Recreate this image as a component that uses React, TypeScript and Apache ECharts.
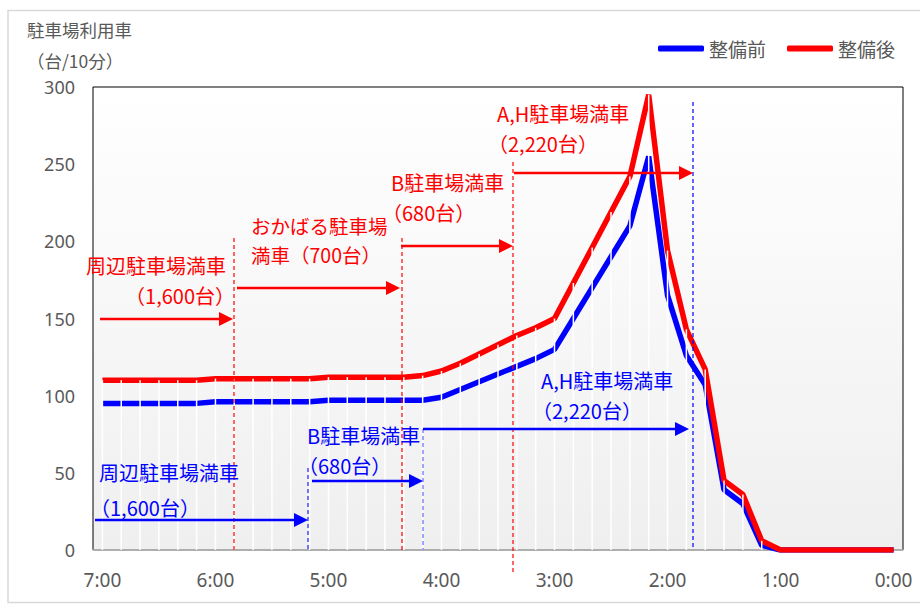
import React, { useEffect, useRef } from 'react';
import * as echarts from 'echarts';

// x categories (10-minute steps, counting down)
const categories = [
  '7:00', '6:50', '6:40', '6:30', '6:20', '6:10',
  '6:00', '5:50', '5:40', '5:30', '5:20', '5:10',
  '5:00', '4:50', '4:40', '4:30', '4:20', '4:10',
  '4:00', '3:50', '3:40', '3:30', '3:20', '3:10',
  '3:00', '2:50', '2:40', '2:30', '2:20', '2:10',
  '2:00', '1:50', '1:40', '1:30', '1:20', '1:10',
  '1:00', '0:50', '0:40', '0:30', '0:20', '0:10',
  '0:00',
];

const seriesNames = ['整備前', '整備後'];

// 整備前 (blue)
const beforeValues = [
  95, 95, 95, 95, 95, 95,
  96, 96, 96, 96, 96, 96,
  97, 97, 97, 97, 97, 97,
  99, 104, 109, 114, 119, 124,
  130, 150, 170, 190, 210, 255,
  165, 126, 107, 39, 30, 3,
  0, 0, 0, 0, 0, 0,
  0,
];

// 整備後 (red)
const afterValues = [
  110, 110, 110, 110, 110, 110,
  111, 111, 111, 111, 111, 111,
  112, 112, 112, 112, 112, 113,
  116, 121, 127, 133, 139, 144,
  150, 173, 196, 219, 242, 295,
  194, 143, 117, 45, 36, 6,
  0, 0, 0, 0, 0, 0,
  0,
];

const yMin = 0;
const yMax = 300;
const yInterval = 50;

// annotation texts
const redTexts = [
  { text: '周辺駐車場満車', x: 86, y: 265, align: 'left', size: 20 },
  { text: '（1,600台）', x: 235, y: 295, align: 'right', size: 20 },
  { text: 'おかばる駐車場', x: 251, y: 225, align: 'left', size: 19.5 },
  { text: '満車（700台）', x: 251, y: 254, align: 'left', size: 19.5 },
  { text: 'B駐車場満車', x: 391, y: 182, align: 'left', size: 20 },
  { text: '（680台）', x: 382, y: 212, align: 'left', size: 20 },
  { text: 'A,H駐車場満車', x: 497, y: 113, align: 'left', size: 20 },
  { text: '（2,220台）', x: 488, y: 143, align: 'left', size: 20 },
];
const blueTexts = [
  { text: '周辺駐車場満車', x: 99, y: 472, align: 'left', size: 20 },
  { text: '（1,600台）', x: 90, y: 507, align: 'left', size: 20 },
  { text: 'B駐車場満車', x: 307, y: 435, align: 'left', size: 20 },
  { text: '（680台）', x: 298, y: 465, align: 'left', size: 20 },
  { text: 'A,H駐車場満車', x: 541, y: 380, align: 'left', size: 20 },
  { text: '（2,220台）', x: 532, y: 410, align: 'left', size: 20 },
];
const redArrows = [
  { x1: 100, x2: 233, y: 319 },
  { x1: 237, x2: 400, y: 288 },
  { x1: 401, x2: 513, y: 246 },
  { x1: 514, x2: 693, y: 173 },
];
const blueArrows = [
  { x1: 95, x2: 308, y: 520 },
  { x1: 312, x2: 423, y: 481 },
  { x1: 423, x2: 689, y: 429 },
];
const redDashes = [
  { x: 234, y1: 238, y2: 550, color: '#ff0000' },
  { x: 402, y1: 238, y2: 550, color: '#ff0000' },
  { x: 513, y1: 162, y2: 572, color: '#ff0000' },
];
const blueDashes = [
  { x: 308, y1: 468, y2: 550, color: '#2020ff' },
  { x: 423, y1: 429, y2: 550, color: '#6a6aff' },
  { x: 693, y1: 102, y2: 550, color: '#0000ff' },
];

const RED = '#ff0000';
const BLUE = '#0000ff';
const GRAY = '#595959';
const CJK = '"Noto Sans CJK JP", "Noto Sans", sans-serif';

export default function App() {
  const ref = useRef<HTMLDivElement>(null);

  useEffect(() => {
    if (!ref.current) return;
    const chart = echarts.init(ref.current, null, { renderer: 'svg' });

    const dropValues = beforeValues.map((v, i) => Math.max(v, afterValues[i]));

    const graphics: any[] = [];
    // outer frame
    graphics.push({
      type: 'rect',
      shape: { x: 8, y: 10.5, width: 1000, height: 592 },
      style: { fill: 'none', stroke: '#d9d9d9', lineWidth: 1.5 },
      z: 0,
      silent: true,
    });
    // titles
    graphics.push({
      type: 'text',
      x: 27,
      y: 29,
      style: { text: '駐車場利用車', fill: GRAY, font: `17.5px ${CJK}`, align: 'left', verticalAlign: 'middle' },
    });
    graphics.push({
      type: 'text',
      x: 27,
      y: 60,
      style: { text: '（台/10分）', fill: GRAY, font: `17.5px ${CJK}`, align: 'left', verticalAlign: 'middle' },
    });

    const addDash = (d: any) => {
      graphics.push({
        type: 'line',
        shape: { x1: d.x, y1: d.y1, x2: d.x, y2: d.y2 },
        style: { stroke: d.color, lineWidth: 1.2, lineDash: [4, 3] },
        z: 4,
        silent: true,
      });
    };
    redDashes.forEach(addDash);
    blueDashes.forEach(addDash);

    const addArrow = (a: any, color: string) => {
      graphics.push({
        type: 'line',
        shape: { x1: a.x1, y1: a.y, x2: a.x2 - 10, y2: a.y },
        style: { stroke: color, lineWidth: 2.5 },
        z: 5,
        silent: true,
      });
      graphics.push({
        type: 'polygon',
        shape: { points: [[a.x2, a.y], [a.x2 - 14, a.y - 7], [a.x2 - 14, a.y + 7]] },
        style: { fill: color },
        z: 5,
        silent: true,
      });
    };
    redArrows.forEach((a) => addArrow(a, RED));
    blueArrows.forEach((a) => addArrow(a, BLUE));

    const addText = (t: any, color: string) => {
      graphics.push({
        type: 'text',
        x: t.x,
        y: t.y,
        z: 6,
        style: {
          text: t.text,
          fill: color,
          font: `${t.size}px ${CJK}`,
          lineHeight: t.size,
          align: t.align,
          verticalAlign: 'middle',
        },
      });
    };
    redTexts.forEach((t) => addText(t, RED));
    blueTexts.forEach((t) => addText(t, BLUE));

    chart.setOption({
      animation: false,
      grid: {
        left: 93,
        right: 17,
        top: 87,
        bottom: 57,
        show: true,
        borderColor: '#000000',
        borderWidth: 1,
        backgroundColor: new echarts.graphic.LinearGradient(0, 0, 0, 1, [
          { offset: 0, color: '#ffffff' },
          { offset: 1, color: '#efefef' },
        ]),
      },
      legend: {
        data: seriesNames,
        left: 658,
        top: 39,
        padding: 0,
        icon: 'roundRect',
        itemWidth: 46,
        itemHeight: 6,
        itemGap: 21,
        textStyle: { fontSize: 19, color: GRAY, fontFamily: CJK },
      },
      xAxis: {
        type: 'category',
        data: categories,
        boundaryGap: true,
        axisLine: { show: true, lineStyle: { color: '#bfbfbf', width: 1.5 } },
        axisTick: { show: false },
        splitLine: { show: false },
        axisLabel: {
          interval: 5,
          margin: 20,
          fontSize: 19,
          color: GRAY,
          fontFamily: '"Noto Sans", sans-serif',
        },
      },
      yAxis: {
        type: 'value',
        min: yMin,
        max: yMax,
        interval: yInterval,
        axisLine: { show: false },
        axisTick: { show: false },
        splitLine: { show: false },
        axisLabel: {
          margin: 18,
          fontSize: 18,
          color: GRAY,
          fontFamily: '"Noto Sans", sans-serif',
        },
      },
      series: [
        {
          name: seriesNames[0],
          type: 'line',
          data: beforeValues,
          symbol: 'none',
          z: 2,
          color: BLUE,
          lineStyle: { color: BLUE, width: 5.5 },
        },
        {
          name: seriesNames[1],
          type: 'line',
          data: afterValues,
          symbol: 'none',
          z: 2,
          color: RED,
          lineStyle: { color: RED, width: 5.5 },
        },
        {
          name: 'drop',
          type: 'bar',
          data: dropValues,
          barWidth: 1.5,
          silent: true,
          z: 3,
          itemStyle: { color: '#ffffff' },
        },
      ],
      graphic: { elements: graphics },
    });

    return () => chart.dispose();
  }, []);

  return (
    <div
      ref={ref}
      style={{ position: 'absolute', left: 0, top: 0, width: 920, height: 607 }}
    />
  );
}
